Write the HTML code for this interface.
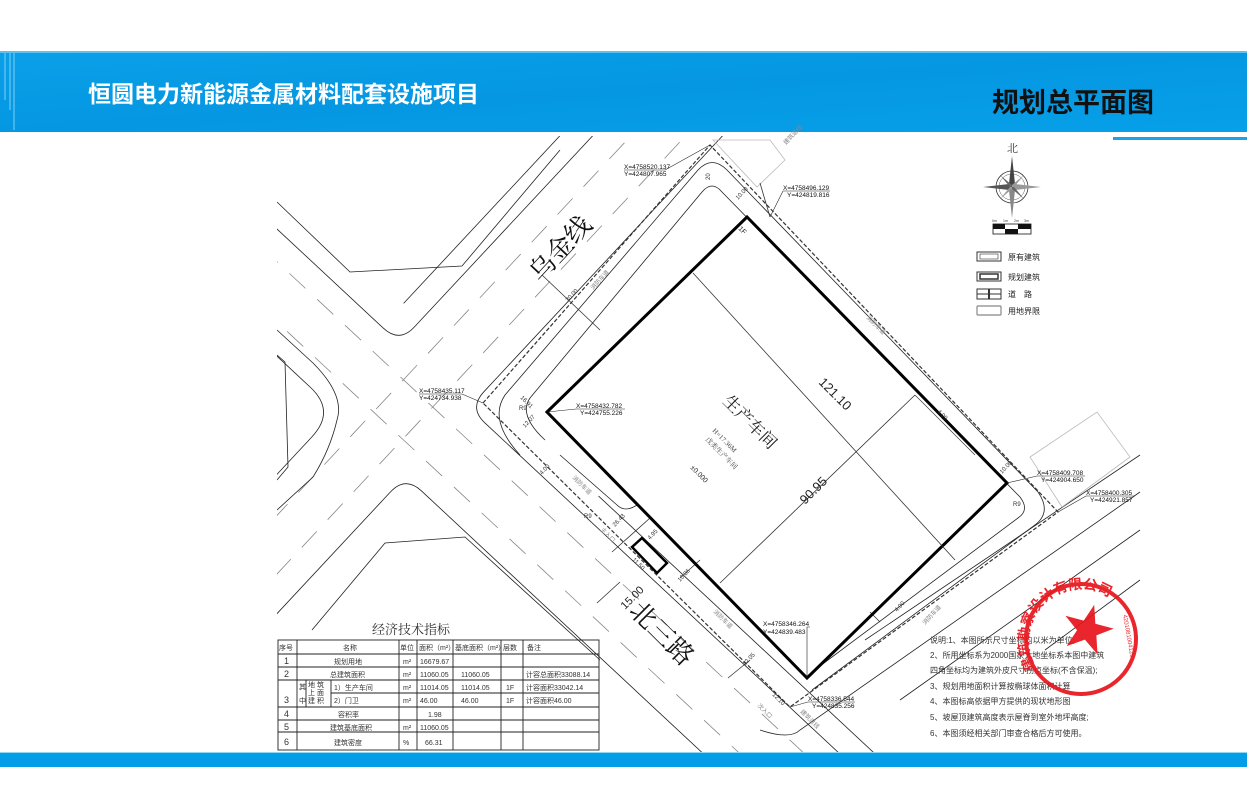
<!DOCTYPE html>
<html><head><meta charset="utf-8"><style>
html,body{margin:0;padding:0;background:#fff;width:1247px;height:807px;overflow:hidden;}
svg{display:block;}
text{font-family:"Liberation Sans","Noto Sans CJK SC",sans-serif;}
.s{font-family:"Liberation Serif","Noto Serif CJK SC",serif;}
</style></head><body>
<svg width="1247" height="807" viewBox="0 0 1247 807" xmlns="http://www.w3.org/2000/svg">
<defs>
<linearGradient id="hb" x1="0" y1="0" x2="1" y2="1">
<stop offset="0" stop-color="#0aa0e8"/><stop offset="0.5" stop-color="#0597e2"/><stop offset="1" stop-color="#07a0e9"/>
</linearGradient>
<clipPath id="dc"><rect x="277" y="136" width="870" height="616"/></clipPath>
<path id="arc" d="M1036,668 A52,52 0 1 1 1128,662"/>
</defs>
<rect width="1247" height="807" fill="#fff"/>
<rect x="0" y="51" width="1247" height="81" fill="url(#hb)"/>
<rect x="0" y="51" width="1247" height="2" fill="#5cc2f2"/>
<line x1="5" y1="53" x2="5" y2="100" stroke="#7fd0f5" stroke-width="1"/>
<line x1="10" y1="53" x2="10" y2="110" stroke="#7fd0f5" stroke-width="1"/>
<line x1="14" y1="53" x2="14" y2="130" stroke="#7fd0f5" stroke-width="1"/>
<text x="88" y="102" font-size="23" fill="#fff" font-weight="bold" style='font-family:"Noto Sans CJK SC",sans-serif'>恒圆电力新能源金属材料配套设施项目</text>
<text x="992" y="112" font-size="27" fill="#111" font-weight="bold" style='font-family:"Noto Sans CJK SC",sans-serif'>规划总平面图</text>
<rect x="1113" y="137" width="134" height="3" fill="#1aa3e8"/>
<rect x="0" y="753" width="1247" height="14" fill="#049ee8"/>
<rect x="0" y="752" width="1247" height="1" fill="#8fd6f7"/>

<g clip-path="url(#dc)" fill="none" stroke="#222" stroke-width="0.8">
 <g transform="translate(410,405) rotate(-47)">
  <path d="M38,-700 L38,-72 Q38,-50 60,-50 L900,-50"/>
  <path d="M38,900 L38,67 Q38,45 60,45 L900,45"/>
  <path d="M-55,-700 L-55,-85 Q-55,-50 -90,-50 L-900,-50"/>
  <path d="M-55,900 L-55,67 Q-55,45 -77,45 L-900,45"/>
  <line x1="70" y1="-74" x2="900" y2="-74"/>
  <line x1="62" y1="200" x2="62" y2="900"/>
  <g stroke="#888" stroke-dasharray="22 16">
   <line x1="-900" y1="-22" x2="900" y2="-22"/>
   <line x1="-900" y1="18" x2="900" y2="18"/>
   <line x1="-30" y1="-900" x2="-30" y2="900"/>
   <line x1="14" y1="-900" x2="14" y2="900"/>
  </g>
 </g>
 <path d="M277,202 L350,272 L462,266 L560,150"/>
 <path d="M277,330 L313,363 Q345,395 337,420 Q330,450 313,477 L277,510"/>
 <path d="M277,355 L285,362 L288,467 L277,480"/>
 <path d="M312,630 L385,543 L465,537 L600,660"/>
 <path d="M1140,455 L865,640"/>
 <path d="M1140,492 L800,730 Q790,740 760,730"/>
 <path d="M1140,530 L900,700"/>
 <path d="M1140,580 L1045,650"/>
 <polygon points="1030,457 1097,412 1130,457 1062,507" stroke="#bbb"/>
 <polygon points="713,140 757,187 785,160 770,140" stroke="#bbb"/>
 <polygon points="483,403 710,145 1058,512 790,707" stroke="#333" stroke-dasharray="4 2" stroke-width="1.2"/>
 <path d="M520,455 Q488,420 505,395 L698,170 Q712,155 727,170 L1038,492 Q1052,512 1035,525 L812,690"/>
 <path d="M545,440 Q518,415 530,398 L702,192 Q712,180 722,192 L1020,497 Q1030,510 1018,518 L812,672"/>
 <path d="M560,455 L617,505 Q625,513 637,505"/>
 <line x1="542" y1="275" x2="600" y2="330" stroke="#333"/>
 <line x1="760" y1="183" x2="770" y2="217" stroke="#333"/>
 <line x1="612" y1="552" x2="650" y2="518" stroke="#333"/>
 <line x1="680" y1="578" x2="700" y2="560" stroke="#333"/>
 <line x1="728" y1="678" x2="750" y2="660" stroke="#333"/>
 <line x1="870" y1="612" x2="880" y2="622" stroke="#333"/>
 <line x1="597" y1="603" x2="620" y2="582" stroke="#333"/>
</g>

<polygon points="547,412 747,217 1007,483 807,678" fill="none" stroke="#000" stroke-width="3"/>
<line x1="693" y1="273" x2="955" y2="560" stroke="#333" stroke-width="0.8"/>
<line x1="720" y1="583" x2="915" y2="395" stroke="#333" stroke-width="0.8"/>
<line x1="915" y1="395" x2="975" y2="455" stroke="#333" stroke-width="0.6"/>
<polygon points="632,547 642,538 667,563 657,573" fill="none" stroke="#000" stroke-width="2.5"/>

<g font-size="6.5" fill="#111">
<text x="624" y="169">X=4758520.137</text><text x="624" y="176">Y=424807.965</text>
<text x="783" y="190">X=4758496.129</text><text x="787" y="197">Y=424819.816</text>
<text x="419" y="393">X=4758435.117</text><text x="419" y="400">Y=424734.938</text>
<text x="576" y="408">X=4758432.782</text><text x="580" y="415">Y=424755.226</text>
<text x="1037" y="475">X=4758409.708</text><text x="1041" y="482">Y=424904.650</text>
<text x="1086" y="495">X=4758400.305</text><text x="1090" y="502">Y=424921.857</text>
<text x="763" y="626">X=4758346.264</text><text x="763" y="634">Y=424839.483</text>
<text x="808" y="701">X=4758336.544</text><text x="812" y="708">Y=424835.256</text>
</g>
<g stroke="#222" stroke-width="0.6" fill="none">
<polyline points="624,170 665,170 710,145"/>
<polyline points="830,191 783,191 770,217"/>
<polyline points="419,394 462,394 483,403"/>
<polyline points="625,409 576,409 547,412"/>
<polyline points="1085,476 1037,476 1007,483"/>
<polyline points="1135,496 1086,496 1058,512"/>
<polyline points="810,627 807,627 807,678"/>
<polyline points="855,702 808,702 790,707"/>
</g>
<text class="s" font-size="26" fill="#111" transform="translate(540,283) rotate(-47)">乌金线</text>
<text class="s" font-size="26" fill="#111" transform="translate(628,612) rotate(45)">北三路</text>
<text class="s" font-size="17" fill="#222" transform="translate(722,402) rotate(45)">生产车间</text>
<text class="s" font-size="7" fill="#444" transform="translate(712,431) rotate(45)">H=17.36M</text>
<text class="s" font-size="7" fill="#444" transform="translate(705,440) rotate(45)">戊类生产车间</text>
<text font-size="7" fill="#222" transform="translate(690,468) rotate(45)">±0.000</text>
<text font-size="13" fill="#222" transform="translate(818,383) rotate(45)">121.10</text>
<text font-size="13" fill="#222" transform="translate(805,505) rotate(-45)">90.95</text>
<text font-size="11" fill="#222" transform="translate(625,610) rotate(-45)">15.00</text>
<text font-size="7" fill="#222" transform="translate(738,229) rotate(45)">1F</text>
<g font-size="6" fill="#333">
<text transform="translate(568,302) rotate(-47)">30.00</text>
<text transform="translate(520,398) rotate(45)">16.91</text>
<text transform="translate(525,428) rotate(-47)">12.07</text>
<text transform="translate(542,475) rotate(-47)">4.00</text>
<text transform="translate(615,527) rotate(-47)">26.43</text>
<text transform="translate(650,540) rotate(-47)">4.95</text>
<text transform="translate(632,560) rotate(45)">11.50</text>
<text transform="translate(680,582) rotate(-47)">10.86</text>
<text transform="translate(745,666) rotate(-47)">12.05</text>
<text transform="translate(772,695) rotate(45)">12.10</text>
<text transform="translate(897,612) rotate(-47)">4.00</text>
<text transform="translate(937,412) rotate(45)">4.00</text>
<text transform="translate(1002,474) rotate(-47)">10.00</text>
<text transform="translate(710,180) rotate(-90)">20</text>
<text transform="translate(738,200) rotate(-47)">10.00</text>
<text x="519" y="410">R9</text><text x="584" y="518">R9</text><text x="1013" y="506">R9</text>
</g>
<g font-size="6" fill="#888">
<text transform="translate(593,290) rotate(-47)">消防车道</text>
<text transform="translate(572,478) rotate(45)">消防车道</text>
<text transform="translate(713,612) rotate(45)">消防车道</text>
<text transform="translate(866,318) rotate(45)">消防车道</text>
<text transform="translate(925,625) rotate(-47)">消防车道</text>
<text transform="translate(600,530) rotate(45)">主入口</text>
<text transform="translate(757,706) rotate(45)">次入口</text>
<text transform="translate(786,145) rotate(-47)">建筑退线</text>
<text transform="translate(800,712) rotate(45)">建筑退线</text>
</g>

<g transform="translate(1012,187)">
<text x="-5" y="-35" font-size="11" fill="#333" class="s">北</text>
<circle r="16" fill="none" stroke="#333" stroke-width="0.8"/>
<circle r="13" fill="none" stroke="#555" stroke-width="0.5"/>
<polygon points="0,-31 3,-3 0,0 -3,-3" fill="#444"/>
<polygon points="0,31 3,3 0,0 -3,3" fill="#888"/>
<polygon points="-29,0 -3,-3 0,0 -3,3" fill="#555"/>
<polygon points="29,0 3,-3 0,0 3,3" fill="#999"/>
<polygon points="-12,-12 -2,0 0,0 0,-2" fill="#666"/>
<polygon points="12,-12 2,0 0,0 0,-2" fill="#999"/>
<polygon points="-12,12 -2,0 0,0 0,2" fill="#999"/>
<polygon points="12,12 2,0 0,0 0,2" fill="#666"/>
</g>
<g font-size="3.5" fill="#333"><text x="992" y="222">0m</text><text x="1003" y="222">1m</text><text x="1014" y="222">2m</text><text x="1024" y="222">3m</text></g>
<rect x="993" y="224" width="38" height="10" fill="#fff" stroke="#111" stroke-width="0.8"/>
<rect x="993" y="224" width="12" height="5" fill="#111"/><rect x="1018" y="224" width="13" height="5" fill="#111"/>
<rect x="1005" y="229" width="13" height="5" fill="#111"/>
<g stroke="#333" fill="none">
<rect x="977" y="252" width="24" height="9" stroke-width="1"/><rect x="980" y="254" width="18" height="5" stroke-width="0.6"/>
<rect x="977" y="272" width="24" height="9" stroke-width="1"/><rect x="980" y="274" width="18" height="5" stroke-width="1.5"/>
<rect x="977" y="289" width="24" height="10" stroke-width="1"/><line x1="977" y1="294" x2="1001" y2="294"/><line x1="989" y1="289" x2="989" y2="299" stroke-width="2"/>
<rect x="977" y="306" width="24" height="9" stroke="#888" stroke-width="1.2" rx="1"/>
</g>
<g font-size="8" fill="#222"><text x="1008" y="260">原有建筑</text><text x="1008" y="280">规划建筑</text><text x="1008" y="297">道　路</text><text x="1008" y="314">用地界限</text></g>

<text x="372" y="634" font-size="13" fill="#333" class="s">经济技术指标</text>
<g stroke="#222" stroke-width="0.9" fill="none">
<rect x="278" y="640" width="321" height="110"/>
<line x1="278" y1="654" x2="599" y2="654"/><line x1="278" y1="667" x2="599" y2="667"/>
<line x1="278" y1="680" x2="599" y2="680"/><line x1="331" y1="693" x2="599" y2="693"/>
<line x1="278" y1="707" x2="599" y2="707"/><line x1="278" y1="720" x2="599" y2="720"/>
<line x1="278" y1="732" x2="599" y2="732"/>
<line x1="297" y1="640" x2="297" y2="750"/><line x1="306" y1="680" x2="306" y2="707"/>
<line x1="331" y1="680" x2="331" y2="707"/>
<line x1="399" y1="640" x2="399" y2="750"/><line x1="417" y1="640" x2="417" y2="750"/>
<line x1="453" y1="640" x2="453" y2="750"/><line x1="501" y1="640" x2="501" y2="750"/>
<line x1="523" y1="640" x2="523" y2="750"/>
</g>
<g font-size="7" fill="#333" class="s">
<text x="279" y="650">序号</text><text x="343" y="650">名称</text><text x="400" y="650">单位</text><text x="419" y="650">面积（m²）</text><text x="455" y="650">基底面积（m²）</text><text x="503" y="650">层数</text><text x="527" y="650">备注</text>
<text x="284" y="664" font-size="9">1</text><text x="334" y="664">规划用地</text><text x="403" y="664">m²</text><text x="420" y="664">16679.67</text>
<text x="284" y="677" font-size="9">2</text><text x="330" y="677">总建筑面积</text><text x="403" y="677">m²</text><text x="420" y="677">11060.05</text><text x="461" y="677">11060.05</text><text x="526" y="677">计容总面积33088.14</text>
<text x="299" y="689">其</text><text x="299" y="703">中</text><text x="308" y="687">地 筑</text><text x="308" y="695">上 面</text><text x="308" y="703">建 积</text>
<text x="284" y="703" font-size="9">3</text>
<text x="334" y="690">1）生产车间</text><text x="403" y="690">m²</text><text x="420" y="690">11014.05</text><text x="461" y="690">11014.05</text><text x="506" y="690">1F</text><text x="526" y="690">计容面积33042.14</text>
<text x="334" y="703">2）门卫</text><text x="403" y="703">m²</text><text x="420" y="703">46.00</text><text x="461" y="703">46.00</text><text x="506" y="703">1F</text><text x="526" y="703">计容面积46.00</text>
<text x="284" y="717" font-size="9">4</text><text x="338" y="717">容积率</text><text x="428" y="717">1.98</text>
<text x="284" y="730" font-size="9">5</text><text x="330" y="730">建筑基底面积</text><text x="403" y="730">m²</text><text x="420" y="730">11060.05</text>
<text x="284" y="745" font-size="9">6</text><text x="334" y="745">建筑密度</text><text x="403" y="745">%</text><text x="425" y="745">66.31</text>
</g>

<g font-size="8" fill="#333" class="s">
<text x="930" y="643">说明:1、本图所示尺寸坐标均以米为单位;</text>
<text x="930" y="658">2、所用坐标系为2000国家大地坐标系本图中建筑</text>
<text x="930" y="673">四角坐标均为建筑外皮尺寸拐点坐标(不含保温);</text>
<text x="930" y="689">3、规划用地面积计算按椭球体面积计算</text>
<text x="930" y="704">4、本图标高依据甲方提供的现状地形图</text>
<text x="930" y="720">5、坡屋顶建筑高度表示屋脊到室外地坪高度;</text>
<text x="930" y="736">6、本图须经相关部门审查合格后方可使用。</text>
</g>

<g opacity="0.92">
<circle cx="1081" cy="639" r="55" fill="none" stroke="#e8141c" stroke-width="4"/>
<polygon points="1088,604 1094,622 1113,622 1098,633 1104,651 1088,640 1072,651 1078,633 1063,622 1082,622" fill="#e8141c" transform="rotate(15 1088 628)"/>
<text font-size="14" fill="#e8141c" font-weight="bold" style='font-family:"Noto Sans CJK SC",sans-serif'><textPath href="#arc">建筑勘察设计有限公司</textPath></text>
<text font-size="6" fill="#e8141c" transform="translate(1123,615) rotate(80)">4201081004125</text>
</g>
</svg>
</body></html>
